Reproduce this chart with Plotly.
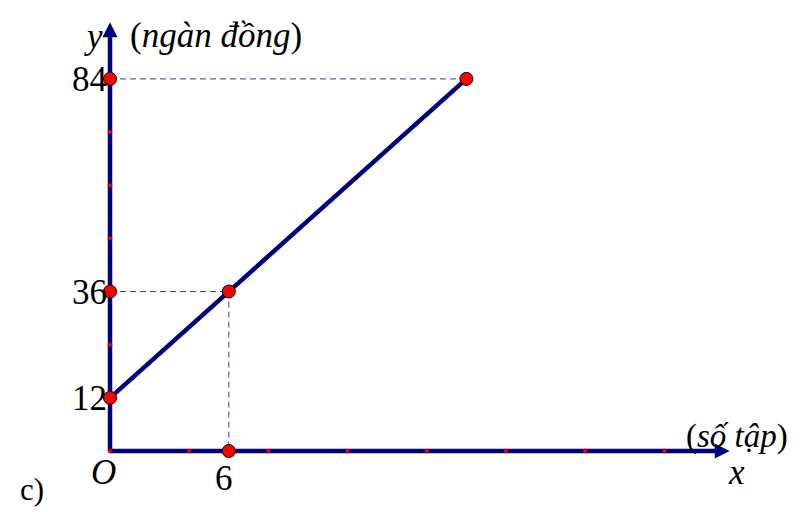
import plotly.graph_objects as go

# values
line_x = [0, 6, 18]
line_y = [12, 36, 84]
big_x = [0, 0, 0, 6, 6, 18]
big_y = [12, 36, 84, 36, 0, 84]
x_ticks = [0, 4, 8, 12, 16, 20, 24, 28]
y_ticks = [24, 48, 60, 72]
y_labels = [84, 36, 12]
x_labels = [6]
x_end = 31.3
y_end = 96.8

NAVY = "#00007f"
SERIF = "Liberation Serif, Times New Roman, serif"
FS = 35

fig = go.Figure()

# dashed guide lines
guides = [([0, 18], [84, 84]), ([0, 6], [36, 36]), ([6, 6], [36, 0])]
for gx, gy in guides:
    fig.add_trace(go.Scatter(x=gx, y=gy, mode="lines",
                             line=dict(color="#3a3aa0", width=1, dash="6px,4px"),
                             hoverinfo="skip", showlegend=False))

# axes
fig.add_trace(go.Scatter(x=[0, x_end - 0.5], y=[0, 0], mode="lines",
                         line=dict(color=NAVY, width=4.5), showlegend=False))
fig.add_trace(go.Scatter(x=[0, 0], y=[0, y_end - 2], mode="lines",
                         line=dict(color=NAVY, width=4.5), showlegend=False))
fig.add_annotation(x=x_end, y=0, ax=x_end - 2, ay=0, xref="x", yref="y",
                   axref="x", ayref="y", text="", showarrow=True,
                   arrowhead=2, arrowsize=1, arrowwidth=3, arrowcolor=NAVY)
fig.add_annotation(x=0, y=y_end, ax=0, ay=y_end - 8, xref="x", yref="y",
                   axref="x", ayref="y", text="", showarrow=True,
                   arrowhead=2, arrowsize=1, arrowwidth=3, arrowcolor=NAVY)

# main line
fig.add_trace(go.Scatter(x=line_x, y=line_y, mode="lines",
                         line=dict(color=NAVY, width=4.5), showlegend=False))

# small tick dots
fig.add_trace(go.Scatter(x=x_ticks, y=[0] * len(x_ticks), mode="markers",
                         marker=dict(color="red", size=4, line=dict(color="#800000", width=0.5)),
                         showlegend=False))
fig.add_trace(go.Scatter(x=[0] * len(y_ticks), y=y_ticks, mode="markers",
                         marker=dict(color="red", size=4, line=dict(color="#800000", width=0.5)),
                         showlegend=False))

# big points
fig.add_trace(go.Scatter(x=big_x, y=big_y, mode="markers",
                         marker=dict(color="#ff0000", size=13, line=dict(color="black", width=1)),
                         showlegend=False))

# labels
for v in y_labels:
    fig.add_annotation(x=0, y=v, text=str(v), showarrow=False, xanchor="right",
                       xshift=-1, yshift=-1, font=dict(family=SERIF, size=FS, color="black"))
for v in x_labels:
    fig.add_annotation(x=v, y=0, text=str(v), showarrow=False, yanchor="middle",
                       xshift=-5, yshift=-27, font=dict(family=SERIF, size=FS, color="black"))
fig.add_annotation(x=0, y=0, text="<i>O</i>", showarrow=False, yanchor="middle",
                   xshift=-7, yshift=-21, font=dict(family=SERIF, size=FS, color="black"))
fig.add_annotation(x=x_end, y=0, text="<i>x</i>", showarrow=False, yanchor="middle",
                   xshift=7, yshift=-21, font=dict(family=SERIF, size=FS, color="black"))
fig.add_annotation(x=0, y=y_end, text="<i>y</i>", showarrow=False, xanchor="right",
                   xshift=-5, yshift=-14, font=dict(family=SERIF, size=FS, color="black"))
fig.add_annotation(x=0, y=y_end, text="(<i>ngàn đồng</i>)", showarrow=False, xanchor="left",
                   xshift=18, yshift=-13, font=dict(family=SERIF, size=FS, color="black"))
fig.add_annotation(x=x_end, y=0, text="(<i>số tập</i>)", showarrow=False, xanchor="right",
                   xshift=60, yshift=15, font=dict(family=SERIF, size=33, color="black"))
fig.add_annotation(xref="paper", yref="paper", x=0.012, y=0.045, text="c)",
                   showarrow=False, xanchor="left", yanchor="middle",
                   font=dict(family=SERIF, size=31, color="black"))

# page body has an 8px margin, so the figure is 8px smaller and shifted
fig.update_layout(
    width=793, height=504,
    margin=dict(l=0, r=0, t=0, b=0),
    paper_bgcolor="white", plot_bgcolor="white",
    xaxis=dict(range=[-5.152, 34.9], visible=False, fixedrange=True),
    yaxis=dict(range=[-13.77, 100.0], visible=False, fixedrange=True),
)

fig.write_html("out.html")
